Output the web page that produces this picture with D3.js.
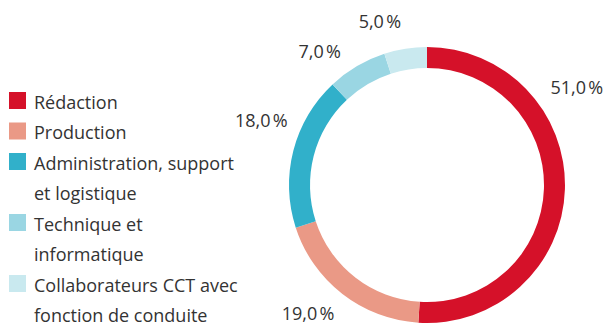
<!DOCTYPE html>
<html>
<head>
<meta charset="utf-8">
<script src="https://cdn.jsdelivr.net/npm/d3@7"></script>
<style>
  html, body { margin: 0; padding: 0; background: #fff; }
  svg { display: block; }
  text { font-family: "Open Sans", sans-serif; fill: #333; }
</style>
</head>
<body>
<svg id="chart" width="610" height="325"></svg>
<script>
// Staff split by function (share of headcount, %)
const categories = [
  "Rédaction",
  "Production",
  "Administration, support et logistique",
  "Technique et informatique",
  "Collaborateurs CCT avec fonction de conduite"
];
const legendLines = [
  ["Rédaction"],
  ["Production"],
  ["Administration, support", "et logistique"],
  ["Technique et", "informatique"],
  ["Collaborateurs CCT avec", "fonction de conduite"]
];
const shares = [51.0, 19.0, 18.0, 7.0, 5.0];
const colors = ["#d51129", "#ea9986", "#31b0ca", "#9ad6e3", "#c9e9ef"];

const svg = d3.select("#chart");
const cx = 427, cy = 185, outerR = 138, innerR = 117;

const pie = d3.pie().sort(null).value(d => d)(shares);
const arc = d3.arc().innerRadius(innerR).outerRadius(outerR);

const g = svg.append("g").attr("transform", `translate(${cx},${cy})`);
g.selectAll("path.slice")
  .data(pie)
  .join("path")
  .attr("class", "slice")
  .attr("d", arc)
  .attr("fill", (d, i) => colors[i]);

// Value labels sit outside the ring; the big slice's label is pulled up toward its start
const fmt = v => v.toFixed(1).replace(".", ",") + "\u202F%";
const labelShift = [-35, 5, 7, -8, -7]; // degrees relative to slice middle
const labelR = [179, 175, 178, 172, 171];
g.selectAll("text.val")
  .data(pie)
  .join("text")
  .attr("class", "val")
  .attr("font-size", 18)
  .attr("text-anchor", "middle")
  .attr("dominant-baseline", "central")
  .attr("x", (d, i) => {
    const a = (d.startAngle + d.endAngle) / 2 + labelShift[i] * Math.PI / 180;
    return Math.sin(a) * labelR[i];
  })
  .attr("y", (d, i) => {
    const a = (d.startAngle + d.endAngle) / 2 + labelShift[i] * Math.PI / 180;
    return -Math.cos(a) * labelR[i];
  })
  .text(d => fmt(d.data));

// Legend
const lineH = 30.5;
const legend = svg.append("g").attr("transform", "translate(9,92)");
let row = 0;
legendLines.forEach((lines, i) => {
  const y0 = row * lineH;
  legend.append("rect")
    .attr("x", 0).attr("y", y0)
    .attr("width", 17).attr("height", 17)
    .attr("fill", colors[i]);
  lines.forEach((ln, j) => {
    legend.append("text")
      .attr("x", 25)
      .attr("y", y0 + 16.5 + j * lineH)
      .attr("font-size", 18)
      .text(ln);
  });
  row += lines.length;
});
</script>
</body>
</html>
